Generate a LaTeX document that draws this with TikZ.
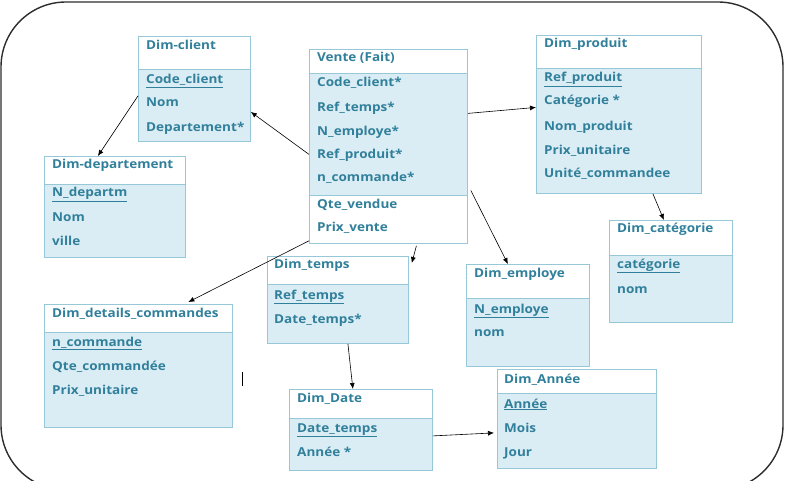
\documentclass[tikz,border=0pt]{standalone}
\usepackage{fontspec}
\setmainfont[FakeStretch=1.1]{Open Sans}
\usepackage{tikz}
\usepackage{color}
\usetikzlibrary{arrows.meta}
\definecolor{tblfill}{RGB}{219,237,244}
\definecolor{tblline}{RGB}{150,200,216}
\definecolor{tbltext}{RGB}{49,128,155}
\definecolor{framegray}{RGB}{45,45,45}

\tikzset{
	tbl/.style={draw=tblline,fill=tblfill,line width=0.8pt,anchor=north west,inner sep=0pt},
	tblhead/.style={draw=tblline,fill=white,line width=0.8pt,anchor=north west,inner sep=0pt},
	attr/.style={anchor=base west,inner sep=0pt,text=tbltext,font=\fontsize{12.3}{14}\selectfont\bfseries},
	fk/.style={-{Latex[length=6pt,width=5pt]},line width=0.6pt,black}
}

\begin{document}
\begin{tikzpicture}[x=1pt,y=-1pt]
			\useasboundingbox (0,0) rectangle (787,481);
			\begin{scope}
				\clip (0,0) rectangle (787,481);
				\draw[framegray,line width=1.4pt,rounded corners=65] (1,2) rectangle (783,490);
			\end{scope}

			% Dim-client
			\node[tbl,minimum width=112,minimum height=105] (client) at (138,36) {};
			\node[tblhead,minimum width=112,minimum height=33] (client-h) at (138,36) {};
			\node[attr] (client-t) at (146,50) {Dim-client};
			\node[attr] (client-1) at (146,84) {\underline{Code\_client}};
			\node[attr] (client-2) at (146,107) {Nom};
			\node[attr] (client-3) at (146,132) {Departement*};

			% Vente (Fait)
			\node[tbl,minimum width=158,minimum height=194] (vente) at (309,49) {};
			\node[tblhead,minimum width=158,minimum height=24] (vente-h) at (309,49) {};
			\node[tblhead,minimum width=158,minimum height=48] (vente-m) at (309,195) {};
			\node[attr] (vente-t) at (317,62) {Vente (Fait)};
			\node[attr] (vente-1) at (317,87) {Code\_client*};
			\node[attr] (vente-2) at (317,112) {Ref\_temps*};
			\node[attr] (vente-3) at (317,136) {N\_employe*};
			\node[attr] (vente-4) at (317,159) {Ref\_produit*};
			\node[attr] (vente-5) at (317,182) {n\_commande*};
			\node[attr] (vente-6) at (317,208) {Qte\_vendue};
			\node[attr] (vente-7) at (317,232) {Prix\_vente};

			% Dim_produit
			\node[tbl,minimum width=165,minimum height=158] (produit) at (536,35) {};
			\node[tblhead,minimum width=165,minimum height=33] (produit-h) at (536,35) {};
			\node[attr] (produit-t) at (544,48) {Dim\_produit};
			\node[attr] (produit-1) at (544,82) {\underline{Ref\_produit}};
			\node[attr] (produit-2) at (544,105) {Catégorie *};
			\node[attr] (produit-3) at (544,131) {Nom\_produit};
			\node[attr] (produit-4) at (544,155) {Prix\_unitaire};
			\node[attr] (produit-5) at (544,178) {Unité\_commandee};

			% Dim-departement
			\node[tbl,minimum width=141,minimum height=101] (dept) at (44,156) {};
			\node[tblhead,minimum width=141,minimum height=28] (dept-h) at (44,156) {};
			\node[attr] (dept-t) at (52,169) {Dim-departement};
			\node[attr] (dept-1) at (52,197) {\underline{N\_departm}};
			\node[attr] (dept-2) at (52,222) {Nom};
			\node[attr] (dept-3) at (52,246) {ville};

			% Dim_details_commandes
			\node[tbl,minimum width=188,minimum height=123] (details) at (44,304) {};
			\node[tblhead,minimum width=188,minimum height=28] (details-h) at (44,304) {};
			\node[attr] (details-t) at (52,317) {Dim\_details\_commandes};
			\node[attr] (details-1) at (52,346) {\underline{n\_commande}};
			\node[attr] (details-2) at (52,370) {Qte\_commandée};
			\node[attr] (details-3) at (52,394) {Prix\_unitaire};
			\draw[black,line width=0.5pt] (242,372) -- (242,386);

			% Dim_temps
			\node[tbl,minimum width=141,minimum height=87] (temps) at (267,256) {};
			\node[tblhead,minimum width=141,minimum height=28] (temps-h) at (267,256) {};
			\node[attr] (temps-t) at (274,269) {Dim\_temps};
			\node[attr] (temps-1) at (274,299) {\underline{Ref\_temps}};
			\node[attr] (temps-2) at (274,323) {Date\_temps*};

			% Dim_employe
			\node[tbl,minimum width=123,minimum height=102] (employe) at (466,264) {};
			\node[tblhead,minimum width=123,minimum height=34] (employe-h) at (466,264) {};
			\node[attr] (employe-t) at (474,277) {Dim\_employe};
			\node[attr] (employe-1) at (474,313) {\underline{N\_employe}};
			\node[attr] (employe-2) at (474,336) {nom};

			% Dim_categorie
			\node[tbl,minimum width=123,minimum height=102] (categorie) at (609,220) {};
			\node[tblhead,minimum width=123,minimum height=35] (categorie-h) at (609,220) {};
			\node[attr] (categorie-t) at (617,233) {Dim\_catégorie};
			\node[attr] (categorie-1) at (617,268) {\underline{catégorie}};
			\node[attr] (categorie-2) at (617,293) {nom};

			% Dim_Date
			\node[tbl,minimum width=143,minimum height=81] (date) at (289,389) {};
			\node[tblhead,minimum width=143,minimum height=29] (date-h) at (289,389) {};
			\node[attr] (date-t) at (297,402) {Dim\_Date};
			\node[attr] (date-1) at (297,432) {\underline{Date\_temps}};
			\node[attr] (date-2) at (297,456) {Année *};

			% Dim_Annee
			\node[tbl,minimum width=159,minimum height=99] (annee) at (497,369) {};
			\node[tblhead,minimum width=159,minimum height=24] (annee-h) at (497,369) {};
			\node[attr] (annee-t) at (504,383) {Dim\_Année};
			\node[attr] (annee-1) at (504,408) {\underline{Année}};
			\node[attr] (annee-2) at (504,432) {Mois};
			\node[attr] (annee-3) at (504,456) {Jour};

			% liens
			\draw[fk] ([yshift=-8]vente.west) -- ([yshift=-23]client.east);
			\draw[fk] ([yshift=-7]client.west) -- ([xshift=-17]dept.north);
			\draw[fk] ([yshift=33]vente.east) -- ([yshift=7]produit.west);
			\draw[fk] ([xshift=3,yshift=-44]vente.east) -- ([xshift=-20]employe.north);
			\draw[fk] ([xshift=28,yshift=-2]vente.south) -- ([xshift=3,yshift=-7]temps.north east);
			\draw[fk] ([yshift=3]vente.south west) -- ([xshift=50,yshift=2]details.north);
			\draw[fk] ([xshift=34]produit.south) -- ([xshift=-7]categorie.north);
			\draw[fk] ([xshift=10]temps.south) -- ([xshift=-8]date.north);
			\draw[fk] ([yshift=-6]date.east) -- ([xshift=-3,yshift=-14]annee.west);
		\end{tikzpicture}
\end{document}
